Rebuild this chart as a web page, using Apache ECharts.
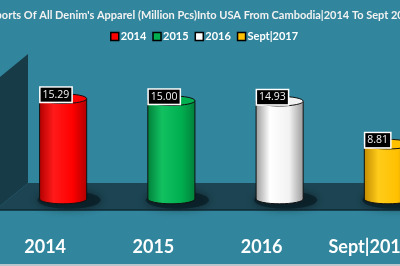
<!DOCTYPE html>
<html><head><meta charset="utf-8">
<script src="https://cdn.jsdelivr.net/npm/echarts@6/dist/echarts.min.js"></script>
<style>html,body{margin:0;padding:0;background:#31859c}#c{width:400px;height:266px}</style>
</head><body><div id="c"></div>
<script>
const titleText = "Exports Of All Denim's Apparel (Million Pcs)Into USA From Cambodia|2014 To Sept 2017";
const categories = ['2014', '2015', '2016', 'Sept|2017'];
const values = [15.29, 15.00, 14.93, 8.81];
const labels = ['15.29', '15.00', '14.93', '8.81'];
const yMin = 1, yMax = 20;

const palette = [
  { dark: '#b00000', mid: '#ff1a1a', top: '#ff0000', leg: '#ff0000' },
  { dark: '#00803a', mid: '#12c060', top: '#00b050', leg: '#00b050' },
  { dark: '#9a9a9a', mid: '#ffffff', top: '#f2f2f2', leg: '#ffffff' },
  { dark: '#c08a00', mid: '#ffcc1a', top: '#ffc000', leg: '#ffc000' }
];

const chart = echarts.init(document.getElementById('c'), null, { renderer: 'canvas' });

function makeRender(ci) {
  return function (params, api) {
    const x = api.value(0), v = api.value(1);
    const top = api.coord([x, v]);
    const base = api.coord([x, yMin]);
    const w = api.size([1, 0])[0] * 0.435;
    const rx = w / 2, ry = 4.8;
    const cx = top[0], l = cx - rx, r = cx + rx;
    const ty = top[1], by = base[1];
    const p = palette[ci];
    const bodyPath = 'M' + l + ' ' + ty + ' L' + l + ' ' + by +
      ' A' + rx + ' ' + ry + ' 0 0 0 ' + r + ' ' + by + ' L' + r + ' ' + ty + ' Z';
    return {
      type: 'group',
      children: [
        { type: 'ellipse', shape: { cx: cx + 6, cy: by + 1, rx: rx + 8, ry: ry + 4 },
          style: { fill: 'rgba(10,30,38,0.75)', shadowBlur: 8, shadowColor: 'rgba(0,0,0,0.6)' } },
        { type: 'path', shape: { pathData: bodyPath },
          style: { fill: new echarts.graphic.LinearGradient(0, 0, 1, 0, [
              { offset: 0, color: p.dark }, { offset: 0.3, color: p.mid },
              { offset: 0.7, color: p.top }, { offset: 1, color: p.dark }]),
            stroke: '#111', lineWidth: 1 } },
        { type: 'ellipse', shape: { cx: cx, cy: ty, rx: rx, ry: ry },
          style: { fill: p.top, stroke: '#111', lineWidth: 1 } },
        { type: 'text', x: l + 1, y: ty - 4,
          style: { text: labels[ci], fill: '#f4f4f4', font: '10.5px "Open Sans", sans-serif',
            align: 'left', verticalAlign: 'middle', backgroundColor: '#000000',
            borderColor: '#ffffff', borderWidth: 1.5, padding: [2, 2, 1, 2] } }
      ]
    };
  };
}

const series = categories.map(function (c, i) {
  return {
    type: 'custom', name: c, z: 5, clip: false,
    itemStyle: { color: palette[i].leg },
    renderItem: makeRender(i),
    encode: { x: 0, y: 1 },
    data: [[i, values[i]]]
  };
});

chart.setOption({
  backgroundColor: '#31859c',
  animation: false,
  title: {
    text: titleText, left: 'center', top: 5,
    textStyle: { color: '#f2f2f2', fontSize: 11, fontWeight: 'bold', fontFamily: 'Lato' }
  },
  legend: {
    top: 26, left: 105, itemGap: 6, itemWidth: 8, itemHeight: 8, icon: 'rect',
    data: categories.map(function (c, i) {
      return { name: c, itemStyle: { color: palette[i].leg, borderColor: '#000', borderWidth: 1.5 } };
    }),
    textStyle: { color: '#ffffff', fontSize: 11, fontWeight: 'bold', fontFamily: 'Lato', padding: [0, 0, 0, -3] }
  },
  grid: { left: 9, width: 433, top: 65.6, height: 133.4, outerBoundsMode: 'none', containLabel: false },
  xAxis: {
    type: 'category', data: categories,
    axisLine: { show: false }, axisTick: { show: false }, splitLine: { show: false },
    axisLabel: { color: '#ffffff', fontSize: 18, fontWeight: 'bold', fontFamily: 'Lato',
      margin: 39, padding: [0, 36, 0, 0], interval: 0, hideOverlap: false }
  },
  yAxis: { type: 'value', min: yMin, max: yMax, show: false },
  graphic: [
    { type: 'polygon', z: 0, shape: { points: [[0, 77], [28, 54], [28, 183], [0, 206]] },
      style: { fill: '#183b48' } },
    { type: 'polygon', z: 0, shape: { points: [[28, 183], [400, 183], [400, 210], [0, 210], [0, 206]] },
      style: { fill: '#1c4452' } },
    { type: 'line', z: 0, shape: { x1: 0, y1: 210, x2: 400, y2: 210 },
      style: { stroke: '#0f2a34', lineWidth: 1.5 } },
    { type: 'line', z: 0, shape: { x1: 0, y1: 265, x2: 400, y2: 265 },
      style: { stroke: '#b9c6cc', lineWidth: 2 } }
  ],
  series: series
});
</script></body></html>
